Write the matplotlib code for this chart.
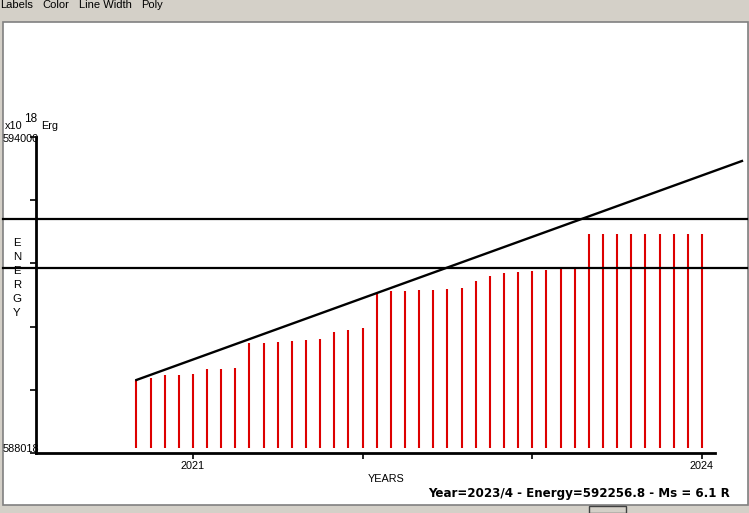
import numpy as np
import matplotlib.pyplot as plt
import matplotlib.transforms as mtransforms
from matplotlib.patches import Rectangle

# monthly energy values (x10^18 Erg), Sep 2020 .. Jan 2024
months = 2020 + 8/12. + np.arange(41)/12.
energy = [589400, 589443, 589495, 589495, 589513, 589608, 589608, 589627,
          590100, 590100, 590119, 590138, 590157, 590176, 590309, 590346,
          590384, 591041, 591085, 591085, 591104, 591104, 591123, 591141,
          591274, 591369, 591425, 591444, 591463, 591482, 591520, 591520,
          592164, 592164, 592164, 592164, 592164, 592164, 592164, 592164,
          592164]
trend_x = [2020 + 8/12., 2024.236]
trend_y = [589400, 593546]
levels = [592448, 591520]
ymin, ymax = 588018, 594000
year_ticks = [2021, 2022, 2023, 2024]
year_labels = ['2021', '', '', '2024']
menu = [('Labels', 0), ('Color', 42), ('Line Width', 79), ('Poly', 141)]

W, H = 749, 513
def fx(x):
	return x/float(W)
def fy(y):
	return 1 - y/float(H)

fig = plt.figure(figsize=(W/100., H/100.), dpi=100, facecolor='#d4d0c8')
font = 'Liberation Sans'

# window frame
fig.patches.append(Rectangle((fx(3), fy(505)), fx(745), (505-22)/float(H),
	transform=fig.transFigure, facecolor='white', edgecolor='#808080', lw=1.2, zorder=-5))
fig.patches.append(Rectangle((fx(589), fy(513)), fx(37), 7/float(H),
	transform=fig.transFigure, facecolor='#d4d0c8', edgecolor='#404040', lw=1.0, zorder=-5))
for name, x in menu:
	fig.text(fx(x), fy(8.5), name, fontsize=8, family=font, va='baseline', ha='left')

ax = fig.add_axes([fx(36), fy(453), fx(715-36), (453-137)/float(H)])
ax.set_zorder(2)
ax.patch.set_visible(False)
ax.vlines(months, 588113, energy, colors='#dd0000', lw=1.5)
ax.plot(trend_x, trend_y, color='black', lw=1.7, clip_on=False)
blend = mtransforms.blended_transform_factory(fig.transFigure, ax.transData)
for lv in levels:
	ax.plot([fx(3), fx(747)], [lv, lv], color='black', lw=1.6, transform=blend, clip_on=False)

ax.set_xlim(2020.075, 2024.077)
ax.set_ylim(ymin, ymax)
for s in ['top', 'right']:
	ax.spines[s].set_visible(False)
for s in ['left', 'bottom']:
	ax.spines[s].set_linewidth(2.0)
ax.set_yticks(np.linspace(ymin, ymax, 6))
ax.set_yticklabels([])
ax.set_xticks(year_ticks)
ax.set_xticklabels(year_labels, fontsize=7.8, family=font)
ax.tick_params(axis='both', direction='out', length=4, width=1.2, pad=2)

# labels
fig.text(fx(5), fy(129), 'x10', fontsize=7.8, family=font, va='baseline')
fig.text(fx(24), fy(122), '18', fontsize=8.5, family=font, va='baseline')
fig.text(fx(41), fy(129), 'Erg', fontsize=7.8, family=font, va='baseline')
fig.text(fx(3), fy(139), '594000', fontsize=7.8, family=font, va='center', zorder=0)
fig.text(fx(3), fy(449), '588018', fontsize=7.8, family=font, va='center', zorder=0)
for i, ch in enumerate('ENERGY'):
	fig.text(fx(17), fy(243 + 14*i), ch, fontsize=8.2, family=font, va='center', ha='center')
fig.text(fx(386), fy(479), 'YEARS', fontsize=7.8, family=font, va='center', ha='center')
fig.text(fx(730), fy(493), 'Year=2023/4 - Energy=592256.8 - Ms = 6.1 R',
	fontsize=8.55, family='DejaVu Sans', fontweight='bold', va='center', ha='right')

plt.savefig('out.png', dpi=100, facecolor=fig.get_facecolor())
